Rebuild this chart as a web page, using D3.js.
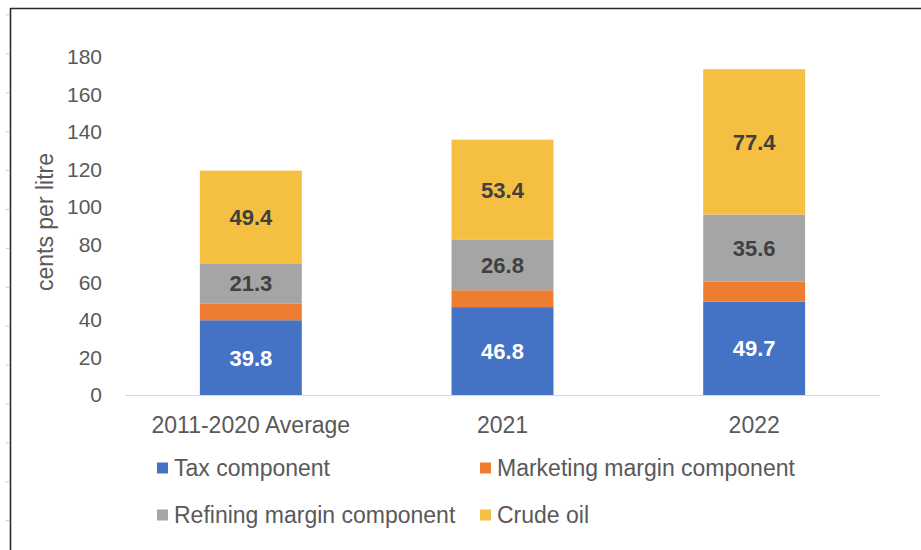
<!DOCTYPE html>
<html>
<head>
<meta charset="utf-8">
<script src="https://cdn.jsdelivr.net/npm/d3@7"></script>
<style>
  html, body { margin: 0; padding: 0; background: #fff; }
  svg { display: block; font-family: "Liberation Sans", Arial, Helvetica, sans-serif; }
</style>
</head>
<body>
<svg id="chart" width="921" height="550"></svg>
<script>
// Petrol price breakdown, cents per litre
const categories = ["2011-2020 Average", "2021", "2022"];
const seriesNames = ["Tax component", "Marketing margin component", "Refining margin component", "Crude oil"];
const taxValues = [39.8, 46.8, 49.7];
const marketingValues = [9.0, 9.0, 10.8];
const refiningValues = [21.3, 26.8, 35.6];
const crudeValues = [49.4, 53.4, 77.4];
const yTicks = [0, 20, 40, 60, 80, 100, 120, 140, 160, 180];
const colors = ["#4472C4", "#ED7D31", "#A5A5A5", "#F5BF42"];
const labelColors = ["#ffffff", null, "#404040", "#404040"];

const seriesValues = [taxValues, marketingValues, refiningValues, crudeValues];
const rows = categories.map((c, i) => {
  const r = { category: c };
  seriesNames.forEach((s, k) => { r[s] = seriesValues[k][i]; });
  return r;
});

const svg = d3.select("#chart");
const textColor = "#595959";

// frame edges
svg.append("line").attr("x1", 10).attr("x2", 921).attr("y1", 8.5).attr("y2", 8.5)
  .attr("stroke", "#2b2b2b").attr("stroke-width", 1.6);
svg.append("line").attr("x1", 10.5).attr("x2", 10.5).attr("y1", 8).attr("y2", 550)
  .attr("stroke", "#2b2b2b").attr("stroke-width", 1.6);
d3.range(15, 550, 38.9).forEach(y => {
  svg.append("line").attr("x1", 6).attr("x2", 9).attr("y1", y).attr("y2", y)
    .attr("stroke", "#c8c8c8").attr("stroke-width", 1);
});

const x = d3.scaleBand().domain(categories).range([125, 880]).paddingInner(0.595).paddingOuter(0.2975);
const y = d3.scaleLinear().domain([0, 180]).range([395, 57]);

const stack = d3.stack().keys(seriesNames);
const layers = stack(rows);

const g = svg.append("g");
layers.forEach((layer, k) => {
  g.selectAll(null).data(layer).enter().append("rect")
    .attr("x", d => x(d.data.category))
    .attr("width", x.bandwidth())
    .attr("y", d => y(d[1]))
    .attr("height", d => y(d[0]) - y(d[1]))
    .attr("fill", colors[k]);
  if (labelColors[k]) {
    g.selectAll(null).data(layer).enter().append("text")
      .attr("x", d => x(d.data.category) + x.bandwidth() / 2)
      .attr("y", d => (y(d[0]) + y(d[1])) / 2)
      .attr("dy", "0.36em")
      .attr("text-anchor", "middle")
      .attr("font-size", 22)
      .attr("font-weight", "bold")
      .attr("fill", labelColors[k])
      .text(d => d3.format(".1f")(d[1] - d[0]));
  }
});

// baseline
svg.append("line").attr("x1", 125).attr("x2", 880).attr("y1", 395.5).attr("y2", 395.5)
  .attr("stroke", "#d9d9d9").attr("stroke-width", 1.2);

// y axis
const yAxis = svg.append("g").attr("transform", "translate(102,0)")
  .call(d3.axisLeft(y).tickValues(yTicks).tickSize(0).tickPadding(0));
yAxis.select(".domain").remove();
yAxis.selectAll("text").attr("font-size", 21).attr("fill", textColor)
  .attr("font-family", "Liberation Sans, Arial, sans-serif");

// x axis
const xAxis = svg.append("g").attr("transform", "translate(0,395)")
  .call(d3.axisBottom(x).tickSize(0).tickPadding(0));
xAxis.select(".domain").remove();
xAxis.selectAll("text").attr("font-size", 23).attr("fill", textColor)
  .attr("dy", null).attr("y", 38)
  .attr("font-family", "Liberation Sans, Arial, sans-serif");

// y axis title
svg.append("text")
  .attr("transform", "translate(53,222) rotate(-90)")
  .attr("text-anchor", "middle")
  .attr("font-size", 23)
  .attr("fill", textColor)
  .text("cents per litre");

// legend
const legendPos = [[157, 467.5], [480, 467.5], [157, 514.5], [480, 514.5]];
seriesNames.forEach((name, k) => {
  const [lx, ly] = legendPos[k];
  svg.append("rect").attr("x", lx).attr("y", ly - 5).attr("width", 11).attr("height", 11)
    .attr("fill", colors[k]);
  svg.append("text").attr("x", lx + 17).attr("y", ly + 8.2)
    .attr("font-size", 23).attr("fill", textColor).text(name);
});
</script>
</body>
</html>
